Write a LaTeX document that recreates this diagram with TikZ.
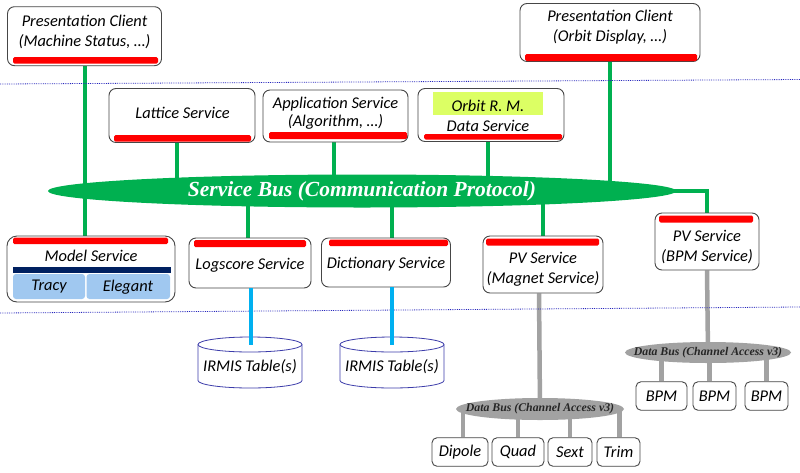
\documentclass[tikz,border=0pt]{standalone}
\usepackage{fontspec}
\setmainfont{Carlito}
\newfontfamily\busfont{Liberation Serif}
\usetikzlibrary{shapes.geometric,backgrounds,calc}
\definecolor{busgreen}{RGB}{0,176,80}
\definecolor{lineblue}{RGB}{0,176,240}
\definecolor{navybar}{RGB}{0,32,96}
\definecolor{dotblue}{RGB}{40,40,190}
\definecolor{lightblue}{RGB}{160,200,240}
\definecolor{hlyellow}{RGB}{220,255,100}
\definecolor{busgray}{RGB}{162,162,162}
\definecolor{boxborder}{RGB}{70,70,70}
\definecolor{cylblue}{RGB}{60,60,170}
\newcommand\drawcyl[3]{%
  \draw[cylblue,line width=0.8pt,fill=white]
    (#1-52,#2) -- (#1-52,#3) arc[start angle=180,end angle=360,x radius=52pt,y radius=7.5pt]
    -- (#1+52,#2);
  \draw[cylblue,line width=0.8pt,fill=white] (#1,#2) ellipse [x radius=52pt,y radius=7.5pt];
}
\begin{document}
\begin{tikzpicture}[x=1pt,y=-1pt,
  box/.style={draw=boxborder,line width=0.9pt,rounded corners=7pt,fill=white,inner sep=0pt},
  txt/.style={font=\fontsize{16.4}{20}\selectfont\itshape,align=center,inner sep=0pt},
  redbar/.style={fill=red,rounded corners=1.5pt},
  gline/.style={draw=busgreen,line width=4pt},
  bline/.style={draw=lineblue,line width=4pt},
  grline/.style={draw=busgray,line width=4.5pt},
  dotline/.style={draw=dotblue,line width=0.8pt,densely dotted},
  dbus/.style={ellipse,fill=busgray,inner sep=0pt},
  dbtext/.style={font=\busfont\bfseries\itshape\fontsize{11.8}{13}\selectfont,text=black!85,inner sep=0pt}
]
\useasboundingbox (0,0) rectangle (800,472);
\begin{scope}[on background layer]
\fill[white] (0,0) rectangle (800,472);
\end{scope}

% separators
\draw[dotline] (0,84) -- (800,79.5);
\draw[dotline] (0,313) -- (800,307);

% top row
\node[box,minimum width=154pt,minimum height=59pt] (pc1) at (84.5,36.2) {};
\node[box,minimum width=180pt,minimum height=58pt] (pc2) at (610,32.5) {};
\node[box,minimum width=146pt,minimum height=54pt] (lattice) at (182,115.5) {};
\node[box,minimum width=145pt,minimum height=52pt] (app) at (335.5,116) {};
\node[box,minimum width=146pt,minimum height=53pt] (orbit) at (491,115) {};

% bus
\node[ellipse,fill=busgreen,minimum width=628pt,minimum height=33pt,inner sep=0pt,
      font=\busfont\bfseries\itshape\fontsize{21.5}{24}\selectfont,text=white] (bus) at (362,191)
      {Service Bus (Communication Protocol)};

% second row
\node[box,rounded corners=10pt,minimum width=168pt,minimum height=66pt] (model) at (91,269) {};
\node[box,minimum width=122pt,minimum height=50pt] (logscore) at (250,263) {};
\node[box,minimum width=129pt,minimum height=49pt] (dict) at (386,262.5) {};
\node[box,minimum width=120pt,minimum height=57pt] (pvmag) at (543,264.5) {};
\node[box,minimum width=104pt,minimum height=57pt] (pvbpm) at (707,241.5) {};

% connectors (green)
\begin{scope}[on background layer]
\draw[gline] (pc1.south) -- (pc1.south |- model.north);
\draw[gline] ([xshift=-5pt]lattice.south) -- ([xshift=-5pt]lattice.south |- bus.center);
\draw[gline] ([xshift=-2pt]app.south) -- ([xshift=-2pt]app.south |- bus.center);
\draw[gline] ([xshift=-3pt]orbit.south) -- ([xshift=-3pt]orbit.south |- bus.center);
\draw[gline] (pc2.south) -- (pc2.south |- bus.center);
\draw[gline] ([xshift=-2pt]logscore.north) -- ([xshift=-2pt]logscore.north |- bus.center);
\draw[gline] ([xshift=6pt]dict.north) -- ([xshift=6pt]dict.north |- bus.center);
\draw[gline] (pvmag.north) -- (pvmag.north |- bus.center);
\draw[gline] ([xshift=-6pt]bus.east) -| (pvbpm.north);
\end{scope}

% red bars
\fill[redbar] (13,57) rectangle (158,63.5);
\fill[redbar] (525,54) rectangle (697,61);
\fill[redbar] (114,135) rectangle (251,141.5);
\fill[redbar] (269,132) rectangle (407,139);
\fill[redbar] (424,134) rectangle (562,139.5);
\fill[redbar] (13,237.5) rectangle (168,244);
\fill[redbar] (194,240) rectangle (306,247);
\fill[redbar] (329,239.5) rectangle (448,246);
\fill[redbar] (486,238.5) rectangle (599,245.5);
\fill[redbar] (659,215.5) rectangle (753,222.5);

% model internals
\fill[navybar] (13,267) rectangle (171,273);
\fill[lightblue,rounded corners=3pt] (13,274) rectangle (85,299);
\fill[lightblue,rounded corners=3pt] (86.5,274) rectangle (170,299);

% texts
\node[txt] (pc1t) at (84.5,31.7) {Presentation Client\\(Machine Status, \dots)};
\node[txt] (pc2t) at (610,27.3) {Presentation Client\\(Orbit Display, \dots)};
\node[txt] (latt) at (182.5,113) {Lattice Service};
\node[txt,font=\fontsize{16.4}{18}\selectfont\itshape] (appt) at (335.5,113) {Application Service\\(Algorithm, \dots)};
\fill[hlyellow] (433,92) rectangle (543,115);
\node[txt] (orbt) at (488,116) {Orbit R.\ M.\\Data Service};
\node[txt] (modelt) at (91,256) {Model Service};
\node[txt] (tracy) at (49,287) {Tracy};
\node[txt] (elegant) at (128,287) {Elegant};
\node[txt] (logt) at (250,265) {Logscore Service};
\node[txt] (dictt) at (386,264) {Dictionary Service};
\node[txt] (pvmagt) at (543,269.5) {PV Service\\(Magnet Service)};
\node[txt] (pvbpmt) at (707,247) {PV Service\\(BPM Service)};

% IRMIS tables
\drawcyl{250}{344.5}{380.5}
\drawcyl{392}{344.5}{380.5}
\node[txt] (irmis1) at (250,367) {IRMIS Table(s)};
\node[txt] (irmis2) at (392,367) {IRMIS Table(s)};
\draw[bline] ([xshift=1pt]logscore.south) -- ([xshift=1pt]logscore.south |- 0,345);
\draw[bline] ([xshift=6pt]dict.south) -- ([xshift=6pt]dict.south |- 0,345);

% data buses
\node[dbus,minimum width=168pt,minimum height=22pt] (dbus2) at (540,409) {};
\node[dbtext] (dbus2t) at (dbus2.center) {Data Bus (Channel Access v3)};
\node[dbus,minimum width=166pt,minimum height=21pt] (dbus1) at (708,352.5) {};
\node[dbtext] (dbus1t) at (dbus1.center) {Data Bus (Channel Access v3)};

% device boxes
\begin{scope}[every node/.style={box,rounded corners=5pt,minimum height=28.5pt,font=\fontsize{16.4}{18}\selectfont\itshape}]
\node[minimum width=51pt] (bpm1) at (661.5,396) {BPM};
\node[minimum width=43pt] (bpm2) at (714.5,396) {BPM};
\node[minimum width=43pt] (bpm3) at (766.5,396) {BPM};
\node[minimum width=56pt] (dipole) at (460,452) {Dipole};
\node[minimum width=52pt] (quad) at (518,452) {Quad};
\node[minimum width=44pt] (sext) at (570,452) {Sext};
\node[minimum width=43pt] (trim) at (618.5,452) {Trim};
\end{scope}

% gray connectors
\begin{scope}[on background layer]
\draw[grline] ([xshift=-4pt]pvmag.south) -- (dbus2.center);
\draw[grline] (pvbpm.south) -- (dbus1.center);
\draw[grline] ([xshift=3pt]dipole.north) -- ([xshift=3pt]dipole.north |- dbus2.center);
\draw[grline] (quad.north) -- (quad.north |- dbus2.center);
\draw[grline] (sext.north) -- (sext.north |- dbus2.center);
\draw[grline] ([xshift=1pt]trim.north) -- ([xshift=1pt]trim.north |- dbus2.center);
\draw[grline] (bpm1.north) -- (bpm1.north |- dbus1.center);
\draw[grline] ([xshift=-5pt]bpm2.north) -- ([xshift=-5pt]bpm2.north |- dbus1.center);
\draw[grline] (bpm3.north) -- (bpm3.north |- dbus1.center);
\end{scope}
\end{tikzpicture}
\end{document}
